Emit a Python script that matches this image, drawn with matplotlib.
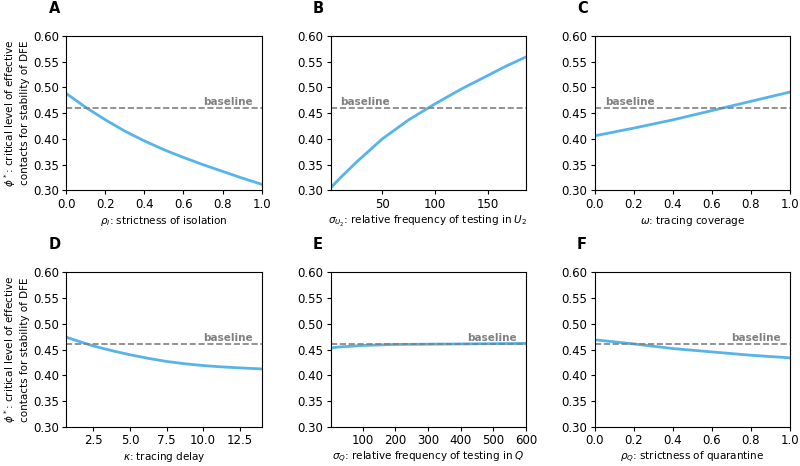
import numpy as np
import matplotlib
matplotlib.use('Agg')
import matplotlib.pyplot as plt

baseline = 0.46
blue = '#56B4E9'

# A: strictness of isolation
rhoI = [0.0, 0.1, 0.2, 0.3, 0.4, 0.5, 0.6, 0.7, 0.8, 0.9, 1.0]
phiA = [0.488, 0.461, 0.437, 0.415, 0.396, 0.379, 0.364, 0.350, 0.337, 0.324, 0.312]

# B: testing frequency in U2
sigU2 = [1, 10, 25, 50, 75, 100, 125, 150, 165, 186]
phiB = [0.305, 0.324, 0.354, 0.400, 0.437, 0.468, 0.497, 0.523, 0.539, 0.559]

# C: tracing coverage
omega = [0.0, 0.2, 0.4, 0.6, 0.8, 1.0]
phiC = [0.406, 0.421, 0.437, 0.455, 0.473, 0.491]

# D: tracing delay
kappa = [0.65, 1.5, 2.5, 3.75, 5.0, 6.25, 7.5, 8.75, 10.0, 11.25, 12.5, 14.0]
phiD = [0.474, 0.466, 0.457, 0.448, 0.440, 0.433, 0.427, 0.4225, 0.419, 0.4165, 0.4145, 0.4125]

# E: testing frequency in Q
sigQ = [1, 25, 50, 100, 200, 300, 400, 500, 600]
phiE = [0.453, 0.455, 0.456, 0.458, 0.460, 0.4605, 0.461, 0.4615, 0.462]

# F: strictness of quarantine
rhoQ = [0.0, 0.2, 0.4, 0.6, 0.8, 1.0]
phiF = [0.469, 0.461, 0.452, 0.4455, 0.439, 0.434]

panels = [
    ('A', rhoI, phiA, r'$\rho_I$: strictness of isolation', 0.70),
    ('B', sigU2, phiB, r'$\sigma_{U_2}$: relative frequency of testing in $U_2$', 0.05),
    ('C', omega, phiC, r'$\omega$: tracing coverage', 0.055),
    ('D', kappa, phiD, r'$\kappa$: tracing delay', 0.70),
    ('E', sigQ, phiE, r'$\sigma_Q$: relative frequency of testing in $Q$', 0.70),
    ('F', rhoQ, phiF, r'$\rho_Q$: strictness of quarantine', 0.70),
]

fig, axes = plt.subplots(2, 3, figsize=(8, 4.66), dpi=100)
plt.subplots_adjust(left=0.083, right=0.9875, top=0.923, bottom=0.084,
                    wspace=0.354, hspace=0.53)

for ax, (lab, x, y, xl, tx) in zip(axes.flat, panels):
    ax.plot(x, y, color=blue, lw=2)
    ax.axhline(baseline, color='gray', ls='--', lw=1.2)
    ax.set_xlim(x[0], x[-1])
    ax.set_ylim(0.30, 0.60)
    ax.set_yticks(np.arange(0.30, 0.61, 0.05))
    ax.yaxis.set_major_formatter(matplotlib.ticker.FormatStrFormatter('%.2f'))
    ax.tick_params(labelsize=8.5, length=3, pad=2.5)
    ax.set_xlabel(xl, fontsize=7.5, labelpad=2)
    ax.text(tx, baseline + 0.002, 'baseline', transform=ax.get_yaxis_transform(),
            color='gray', fontweight='bold', fontsize=7.5, va='bottom')
    ax.text(-0.092, 1.15, lab, transform=ax.transAxes, fontsize=10.5,
            fontweight='heavy', va='baseline')

axes[0, 1].set_xticks([50, 100, 150])
axes[1, 0].set_xticks([2.5, 5.0, 7.5, 10.0, 12.5])
axes[1, 1].set_xticks([100, 200, 300, 400, 500, 600])

for ax in axes[:, 0]:
    ax.set_ylabel('$\\phi^*$: critical level of effective\ncontacts for stability of DFE',
                  fontsize=7.5, labelpad=2)

fig.savefig('out.png')
